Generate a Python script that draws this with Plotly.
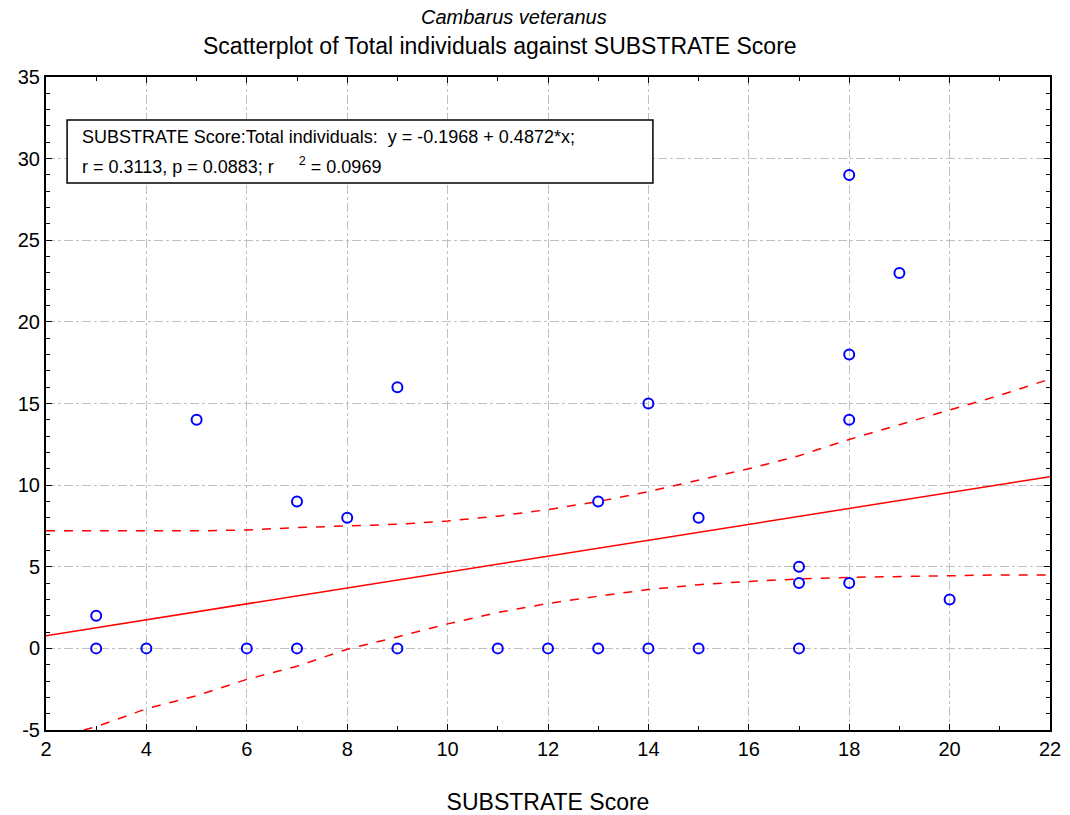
import plotly.graph_objects as go

# Data points (SUBSTRATE Score, Total individuals)
substrate = [3, 3, 4, 5, 6, 7, 7, 8, 9, 9, 11, 12, 13, 13, 14, 14, 15, 15, 17, 17, 17, 18, 18, 18, 18, 19, 20]
total_ind = [2, 0, 0, 14, 0, 9, 0, 8, 16, 0, 0, 0, 9, 0, 15, 0, 8, 0, 5, 4, 0, 29, 18, 14, 4, 23, 3]

# Regression line endpoints
fit_x = [2, 22]
fit_y = [0.78, 10.52]

# Confidence band
upper_x = [2, 3, 4, 5, 6, 7, 8, 9, 10, 11, 12, 13, 14, 15, 16, 17, 18, 19, 20, 21, 22]
upper_y = [7.2, 7.2, 7.2, 7.2, 7.25, 7.4, 7.5, 7.6, 7.8, 8.1, 8.5, 9.0, 9.6, 10.3, 11.0, 11.8, 12.8, 13.7, 14.6, 15.5, 16.5]
lower_x = [2.75, 3, 4, 5, 6, 7, 8, 9, 10, 11, 12, 13, 14, 15, 16, 17, 18, 19, 20, 21, 22]
lower_y = [-5.0, -4.8, -3.7, -2.9, -1.9, -1.1, -0.05, 0.7, 1.5, 2.2, 2.75, 3.2, 3.6, 3.9, 4.1, 4.25, 4.35, 4.4, 4.45, 4.5, 4.5]

x_ticks = [2, 4, 6, 8, 10, 12, 14, 16, 18, 20, 22]
y_ticks = [-5, 0, 5, 10, 15, 20, 25, 30, 35]

FONT = "Liberation Sans, Arial, sans-serif"

fig = go.Figure()
fig.add_trace(go.Scatter(x=upper_x, y=upper_y, mode="lines",
                         line=dict(color="#ff0000", width=1.5, dash="dash"), showlegend=False))
fig.add_trace(go.Scatter(x=lower_x, y=lower_y, mode="lines",
                         line=dict(color="#ff0000", width=1.5, dash="dash"), showlegend=False))
fig.add_trace(go.Scatter(x=fit_x, y=fit_y, mode="lines",
                         line=dict(color="#ff0000", width=1.5), showlegend=False))
fig.add_trace(go.Scatter(x=substrate, y=total_ind, mode="markers",
                         marker=dict(symbol="circle-open", size=10, color="#0000ff",
                                     line=dict(width=2, color="#0000ff")),
                         showlegend=False))

axis_common = dict(
    showline=True, linecolor="black", linewidth=2, mirror="allticks",
    ticks="inside", ticklen=6, tickcolor="black", tickwidth=1,
    showgrid=True, gridcolor="#c0c0c0", griddash="dashdot", gridwidth=1.2,
    zeroline=False, automargin=False,
    tickfont=dict(family=FONT, size=20, color="black"),
    minor=dict(ticks="inside", ticklen=4, tickcolor="black", dtick=1, showgrid=False),
)

fig.update_xaxes(range=[2, 22], tickvals=x_ticks, ticktext=[str(v) for v in x_ticks],
                 title=dict(text="SUBSTRATE Score", font=dict(family=FONT, size=23, color="black"), standoff=36),
                 **axis_common)
fig.update_yaxes(range=[-5, 35], tickvals=y_ticks, ticktext=[str(v) for v in y_ticks],
                 **axis_common)

# Statistics box
fig.add_shape(type="rect", xref="x", yref="y", x0=2.42, x1=14.09, y0=28.51, y1=32.37,
              line=dict(color="black", width=1.5), fillcolor="white", layer="above")
fig.add_annotation(xref="x", yref="y", x=2.68, y=31.35, xanchor="left", yanchor="middle",
                   text="SUBSTRATE Score:Total individuals:&nbsp;&nbsp;y = -0.1968 + 0.4872*x;",
                   showarrow=False, font=dict(family=FONT, size=18, color="black"))
fig.add_annotation(xref="x", yref="y", x=2.68, y=29.6, xanchor="left", yanchor="middle",
                   text="r = 0.3113, p = 0.0883; r&nbsp;&nbsp;&nbsp;&nbsp;&nbsp;<sup>2</sup> = 0.0969",
                   showarrow=False, font=dict(family=FONT, size=18, color="black"))

# Titles
fig.add_annotation(xref="paper", yref="paper", x=0.466, y=1.092, xanchor="center", yanchor="middle",
                   text="<i>Cambarus veteranus</i>", showarrow=False,
                   font=dict(family=FONT, size=20, color="black"))
fig.add_annotation(xref="paper", yref="paper", x=0.452, y=1.047, xanchor="center", yanchor="middle",
                   text="Scatterplot of Total individuals against SUBSTRATE Score", showarrow=False,
                   font=dict(family=FONT, size=23, color="black"))

fig.update_layout(
    width=1070, height=815,
    margin=dict(l=46, r=20, t=77, b=85),
    paper_bgcolor="white", plot_bgcolor="white",
    font=dict(family=FONT, color="black"),
)

fig.write_html("out.html")
